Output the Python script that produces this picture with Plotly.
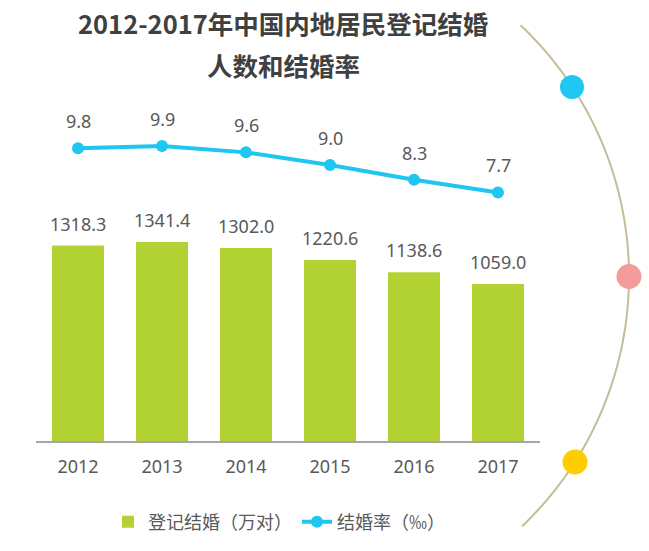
import numpy as np
import plotly.graph_objects as go

years = ["2012", "2013", "2014", "2015", "2016", "2017"]
marriages = [1318.3, 1341.4, 1302.0, 1220.6, 1138.6, 1059.0]   # 登记结婚（万对）
rate = [9.8, 9.9, 9.6, 9.0, 8.3, 7.7]                          # 结婚率（‰）
bar_labels = ["1318.3", "1341.4", "1302.0", "1220.6", "1138.6", "1059.0"]
rate_labels = ["9.8", "9.9", "9.6", "9.0", "8.3", "7.7"]

W, H = 649, 551
L, R, T, B = 36, 109, 100, 109
PW, PH = W - L - R, H - T - B


def px(X):
    return (X - L) / PW


def py(Y):
    return (H - B - Y) / PH


FONT = "Noto Sans, Noto Sans CJK SC, sans-serif"
GREEN = "#b3d234"
BLUE = "#1fc6f1"
TXT = "#595959"

fig = go.Figure()
fig.add_trace(go.Bar(
    x=years, y=marriages, name="登记结婚（万对）",
    marker=dict(color=GREEN, line=dict(width=0)),
    yaxis="y", hoverinfo="x+y",
))
fig.add_trace(go.Scatter(
    x=years, y=rate, name="结婚率（‰）", mode="lines+markers",
    line=dict(color=BLUE, width=4), marker=dict(color=BLUE, size=12),
    yaxis="y2",
))

annotations = []
for i, (v, t) in enumerate(zip(marriages, bar_labels)):
    annotations.append(dict(x=i, y=v, xref="x", yref="y", text=t, showarrow=False,
                            yanchor="middle", yshift=22, visible=True,
                            font=dict(family=FONT, size=18, color=TXT)))
for i, (v, t) in enumerate(zip(rate, rate_labels)):
    annotations.append(dict(x=i, y=v, xref="x", yref="y2", text=t, showarrow=False,
                            yanchor="middle", yshift=27, visible=True,
                            font=dict(family=FONT, size=18, color=TXT)))

TFONT = dict(family="Noto Sans CJK SC, sans-serif", size=25.5, color="#404040")
annotations.append(dict(x=px(283), y=py(22), xref="paper", yref="paper",
                        text="<b>2012-2017年中国内地居民登记结婚</b>", showarrow=False,
                        xanchor="center", yanchor="middle", font=TFONT))
annotations.append(dict(x=px(283), y=py(64), xref="paper", yref="paper",
                        text="<b>人数和结婚率</b>", showarrow=False,
                        xanchor="center", yanchor="middle", font=TFONT))

# decorative arc with dots on the right
cx, cy, rad = 282, 277, 347
ang = np.linspace(np.radians(-46.6), np.radians(46.2), 80)
pts = [(px(cx + rad * np.cos(a)), py(cy + rad * np.sin(a))) for a in ang]
path = "M" + " L".join(f"{x:.5f},{y:.5f}" for x, y in pts)
shapes = [dict(type="path", path=path, xref="paper", yref="paper",
               line=dict(color="#c5bd98", width=2), layer="above")]
for (X, Y, r, c) in [(572, 87, 12, "#1ec8f2"), (629, 277, 12.5, "#f49c9c"), (575, 463, 12.5, "#ffcc00")]:
    shapes.append(dict(type="circle", xref="paper", yref="paper",
                       x0=px(X - r), x1=px(X + r), y0=py(Y + r), y1=py(Y - r),
                       fillcolor=c, line=dict(width=0), layer="above"))

hidden = dict(showgrid=False, zeroline=False, showline=False, showticklabels=False, ticks="")
y2span = PH / 21.14
y2lo = 9.8 - (H - B - 148.3) / PH * y2span

fig.update_layout(
    width=W, height=H,
    margin=dict(l=L, r=R, t=T, b=B, pad=0),
    paper_bgcolor="white", plot_bgcolor="white",
    font=dict(family=FONT, color=TXT),
    bargap=0.38,
    showlegend=True,
    legend=dict(orientation="h", x=px(279), xanchor="center", y=py(522), yanchor="middle",
                font=dict(family="Noto Sans CJK SC, sans-serif", size=18, color=TXT),
                itemwidth=30, bgcolor="rgba(0,0,0,0)"),
    xaxis=dict(type="category", range=[-0.5, 5.5], showline=True, linecolor="#a6a6a6",
               linewidth=2, showgrid=False, zeroline=False, ticks="",
               tickfont=dict(family=FONT, size=18, color=TXT), ticklabelstandoff=8),
    yaxis=dict(range=[0, PH / 0.1487], **hidden),
    yaxis2=dict(range=[y2lo, y2lo + y2span], overlaying="y", **hidden),
    annotations=annotations,
    shapes=shapes,
)

fig.write_html("out.html", config={"displayModeBar": False},
               post_script="document.body.style.margin='0';document.body.style.overflow='hidden';")
